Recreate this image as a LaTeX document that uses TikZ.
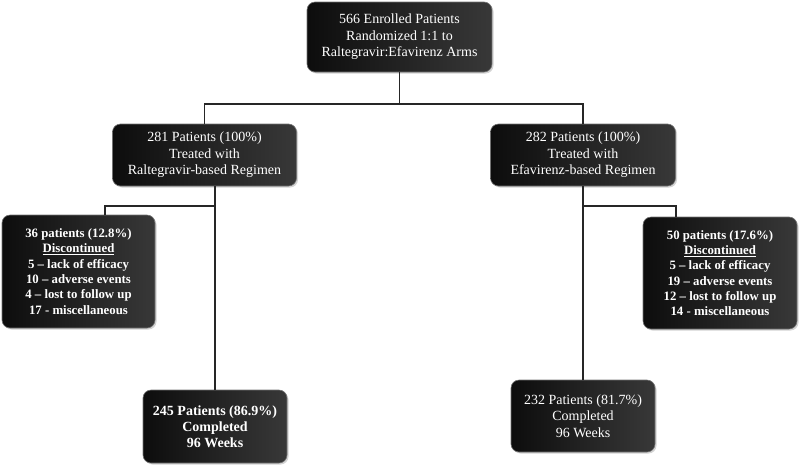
\documentclass[tikz,border=0pt]{standalone}
\usepackage{fontspec}
\setmainfont{Liberation Serif}
\usetikzlibrary{shadows}
\begin{document}
\begin{tikzpicture}[x=1pt,y=-1pt,
  darkbox/.style={rounded corners=8pt, left color=black!95, right color=black!78,
    draw=black!55, line width=0.6pt, text=white, align=center, inner sep=0pt,
    drop shadow={opacity=0.35, shadow xshift=1.5pt, shadow yshift=-1.5pt}},
  conn/.style={draw=black!85, line width=1.6pt},
  txt/.style={font=\fontsize{14}{16.5}\selectfont},
  btxt/.style={font=\bfseries\fontsize{14}{16}\selectfont},
  dtxt/.style={font=\bfseries\fontsize{12.8}{15.3}\selectfont}]
\useasboundingbox (0,0) rectangle (800,464);

\node[darkbox, txt, minimum width=185pt, minimum height=70pt] (top) at (399.5,37)
  {566 Enrolled Patients\\Randomized 1:1 to\\Raltegravir:Efavirenz Arms};
\node[darkbox, txt, minimum width=184pt, minimum height=62pt] (L1) at (204.5,155)
  {281 Patients (100\%)\\Treated with\\Raltegravir-based Regimen};
\node[darkbox, txt, minimum width=185pt, minimum height=62pt] (R1) at (583,155)
  {282 Patients (100\%)\\Treated with\\Efavirenz-based Regimen};
\node[darkbox, dtxt, minimum width=153pt, minimum height=113pt] (LD) at (78.5,271.5)
  {36 patients (12.8\%)\\\underline{Discontinued}\\5 -- lack of efficacy\\10 -- adverse events\\4 -- lost to follow up\\17 - miscellaneous};
\node[darkbox, dtxt, minimum width=154pt, minimum height=112pt] (RD) at (720,273)
  {50 patients (17.6\%)\\\underline{Discontinued}\\5 -- lack of efficacy\\19 -- adverse events\\12 -- lost to follow up\\14 - miscellaneous};
\node[darkbox, btxt, minimum width=144pt, minimum height=73pt] (LB) at (215,426.5)
  {245 Patients (86.9\%)\\Completed\\96 Weeks};
\node[darkbox, txt, minimum width=144pt, minimum height=72pt] (RB) at (583,416)
  {232 Patients (81.7\%)\\Completed\\96 Weeks};

\coordinate (jL) at (204.5,104);
\coordinate (jR) at (583,104);
\coordinate (bL) at (215,206);
\coordinate (bR) at (583,206);

\draw[conn] (top.south) -- (top.south |- jL);
\draw[conn] (L1.north) -- (jL) -- (jR) -- (R1.north);
\draw[conn] (L1.south -| LB.north) -- (LB.north);
\draw[conn] (bL) -| ([xshift=26.5pt]LD.north);
\draw[conn] (R1.south -| RB.north) -- (RB.north);
\draw[conn] (bR) -| ([xshift=-44pt]RD.north);
\end{tikzpicture}
\end{document}
